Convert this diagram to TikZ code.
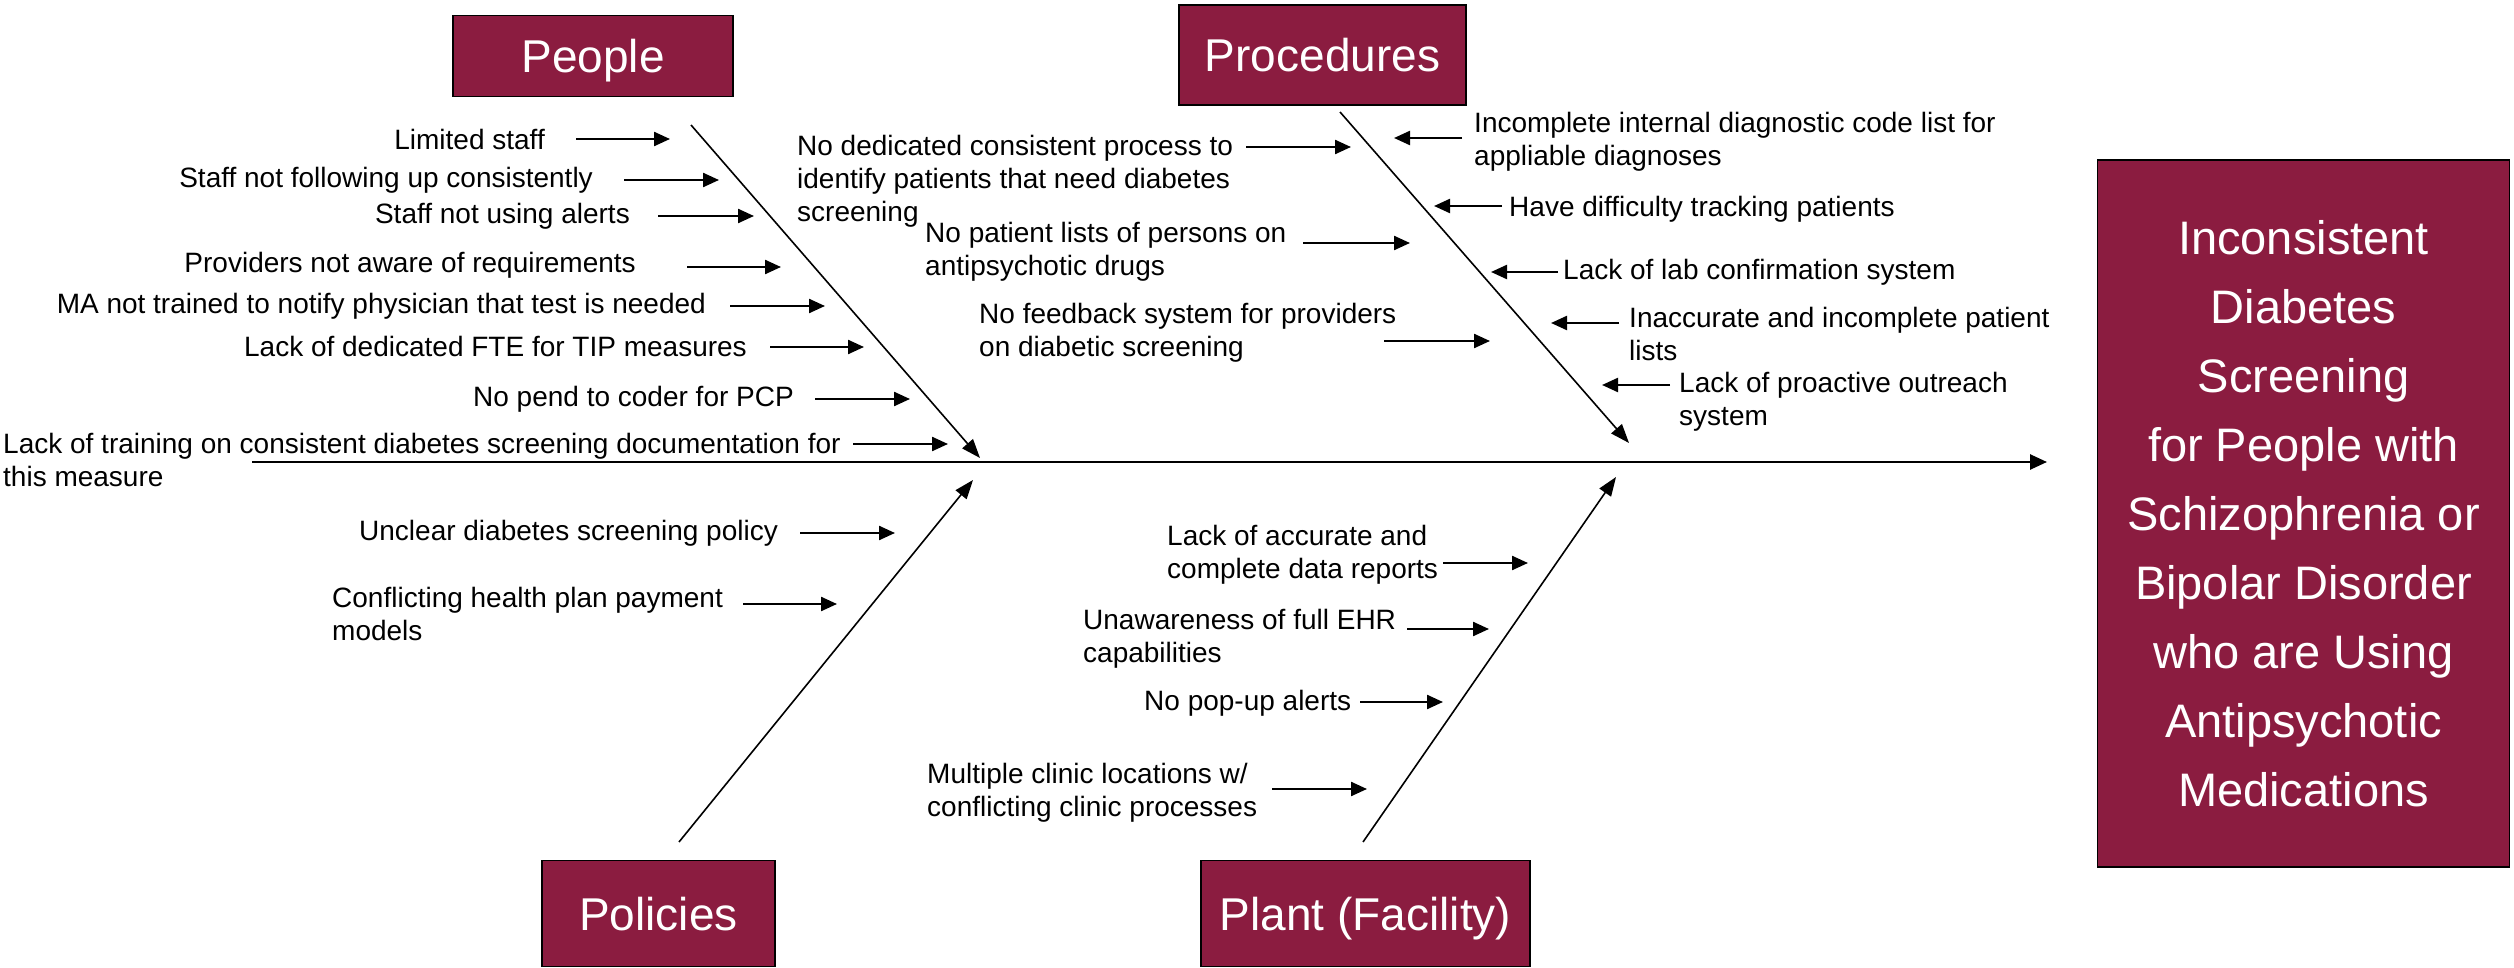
\documentclass[tikz,border=0pt]{standalone}
\usepackage{fontspec}
\setmainfont{Liberation Sans}
\usetikzlibrary{arrows.meta}
\definecolor{maroon}{RGB}{139,28,64}
\begin{document}
\begin{tikzpicture}[x=1pt,y=-1pt,
  box/.style={draw=black, line width=1.2pt, fill=maroon, text=white, inner sep=0pt, font=\fontsize{46}{55}\selectfont, text height=33pt, text depth=0pt},
  lbl/.style={inner sep=0pt, font=\fontsize{28}{33}\selectfont, align=left},
  larr/.style={line width=2.3pt, -{Triangle[length=16pt,width=14pt]}},
  bone/.style={line width=1.6pt, -{Triangle[length=19pt,width=14pt]}},
  spine/.style={line width=2.6pt, -{Triangle[length=17pt,width=15pt]}}]
\useasboundingbox (0,0) rectangle (2514,968);

% category boxes
\node[box, minimum width=280pt, minimum height=81pt] (people) at (593,56) {People};
\node[box, minimum width=287pt, minimum height=100pt] (procedures) at (1322.5,55) {Procedures};
\node[box, minimum width=233pt, minimum height=106pt] (policies) at (658.5,913.5) {Policies};
\node[box, minimum width=329pt, minimum height=106pt] (plant) at (1365.5,913.5) {Plant (Facility)};
\node[draw=black, line width=1.2pt, fill=maroon, text=white, inner sep=0pt, minimum width=412pt, minimum height=707pt, align=center, font=\fontsize{47}{69}\selectfont] (effect) at (2303.5,513.5)
  {Inconsistent\\Diabetes\\Screening\\for People with\\Schizophrenia or\\Bipolar Disorder\\who are Using\\Antipsychotic\\Medications};

% spine
\coordinate (spS) at (252,462);
\coordinate (spE) at (2047,462);
\draw[spine] (spS) -- (spE);

% bones
\coordinate (b1s) at (691,125);  \coordinate (b1e) at (980,458);
\coordinate (b2s) at (1340,112); \coordinate (b2e) at (1629,443);
\coordinate (b3s) at (679,842);  \coordinate (b3e) at (973,480);
\coordinate (b4s) at (1363,842); \coordinate (b4e) at (1616,477);
\draw[bone] (b1s) -- (b1e);
\draw[bone] (b2s) -- (b2e);
\draw[bone] (b3s) -- (b3e);
\draw[bone] (b4s) -- (b4e);

% People causes
\node[lbl, anchor=east] (p1) at (545,139) {Limited staff};
\coordinate (p1s) at (576,139); \coordinate (p1e) at (670,139);
\draw[larr] (p1s) -- (p1e);
\node[lbl, anchor=east] (p2) at (593,180) {Staff not following up consistently};
\coordinate (p2s) at (624,180); \coordinate (p2e) at (719,180);
\draw[larr] (p2s) -- (p2e);
\node[lbl, anchor=east] (p3) at (630,216) {Staff not using alerts};
\coordinate (p3s) at (658,216); \coordinate (p3e) at (754,216);
\draw[larr] (p3s) -- (p3e);
\node[lbl, anchor=east] (p4) at (636,265) {Providers not aware of requirements};
\coordinate (p4s) at (687,267); \coordinate (p4e) at (781,267);
\draw[larr] (p4s) -- (p4e);
\node[lbl, anchor=east] (p5) at (706,306) {MA not trained to notify physician that test is needed};
\coordinate (p5s) at (730,306); \coordinate (p5e) at (825,306);
\draw[larr] (p5s) -- (p5e);
\node[lbl, anchor=east] (p6) at (747,346) {Lack of dedicated FTE for TIP measures};
\coordinate (p6s) at (770,347); \coordinate (p6e) at (864,347);
\draw[larr] (p6s) -- (p6e);
\node[lbl, anchor=east] (p7) at (794,399) {No pend to coder for PCP};
\coordinate (p7s) at (815,399); \coordinate (p7e) at (910,399);
\draw[larr] (p7s) -- (p7e);
\node[lbl, anchor=west] (p8) at (3,460) {Lack of training on consistent diabetes screening documentation for\\this measure};
\coordinate (p8s) at (853,444); \coordinate (p8e) at (948,444);
\draw[larr] (p8s) -- (p8e);

% Procedures causes (left side)
\node[lbl, anchor=west] (r1) at (797,181) {No dedicated consistent process to\\identify patients that need diabetes\\screening};
\coordinate (r1s) at (1246,147); \coordinate (r1e) at (1351,147);
\draw[larr] (r1s) -- (r1e);
\node[lbl, anchor=west] (r2) at (925,252) {No patient lists of persons on\\antipsychotic drugs};
\coordinate (r2s) at (1303,243); \coordinate (r2e) at (1410,243);
\draw[larr] (r2s) -- (r2e);
\node[lbl, anchor=west] (r3) at (979,333) {No feedback system for providers\\on diabetic screening};
\coordinate (r3s) at (1384,341); \coordinate (r3e) at (1490,341);
\draw[larr] (r3s) -- (r3e);

% Procedures causes (right side)
\node[lbl, anchor=west] (q1) at (1474,142) {Incomplete internal diagnostic code list for\\appliable diagnoses};
\coordinate (q1s) at (1462,138); \coordinate (q1e) at (1394,138);
\draw[larr] (q1s) -- (q1e);
\node[lbl, anchor=west] (q2) at (1509,209) {Have difficulty tracking patients};
\coordinate (q2s) at (1502,206); \coordinate (q2e) at (1434,206);
\draw[larr] (q2s) -- (q2e);
\node[lbl, anchor=west] (q3) at (1563,272) {Lack of lab confirmation system};
\coordinate (q3s) at (1558,272); \coordinate (q3e) at (1491,272);
\draw[larr] (q3s) -- (q3e);
\node[lbl, anchor=west] (q4) at (1629,334) {Inaccurate and incomplete patient\\lists};
\coordinate (q4s) at (1619,323); \coordinate (q4e) at (1551,323);
\draw[larr] (q4s) -- (q4e);
\node[lbl, anchor=west] (q5) at (1679,402) {Lack of proactive outreach\\system};
\coordinate (q5s) at (1670,385); \coordinate (q5e) at (1602,385);
\draw[larr] (q5s) -- (q5e);

% Policies causes
\node[lbl, anchor=west] (o1) at (359,533) {Unclear diabetes screening policy};
\coordinate (o1s) at (800,533); \coordinate (o1e) at (895,533);
\draw[larr] (o1s) -- (o1e);
\node[lbl, anchor=west] (o2) at (332,614) {Conflicting health plan payment\\models};
\coordinate (o2s) at (743,604); \coordinate (o2e) at (837,604);
\draw[larr] (o2s) -- (o2e);

% Plant causes
\node[lbl, anchor=west] (f1) at (1167,555) {Lack of accurate and\\complete data reports};
\coordinate (f1s) at (1443,563); \coordinate (f1e) at (1528,563);
\draw[larr] (f1s) -- (f1e);
\node[lbl, anchor=west] (f2) at (1083,639) {Unawareness of full EHR\\capabilities};
\coordinate (f2s) at (1407,629); \coordinate (f2e) at (1489,629);
\draw[larr] (f2s) -- (f2e);
\node[lbl, anchor=west] (f3) at (1144,703) {No pop-up alerts};
\coordinate (f3s) at (1360,702); \coordinate (f3e) at (1443,702);
\draw[larr] (f3s) -- (f3e);
\node[lbl, anchor=west] (f4) at (927,793) {Multiple clinic locations w/\\conflicting clinic processes};
\coordinate (f4s) at (1272,789); \coordinate (f4e) at (1367,789);
\draw[larr] (f4s) -- (f4e);
\end{tikzpicture}
\end{document}
